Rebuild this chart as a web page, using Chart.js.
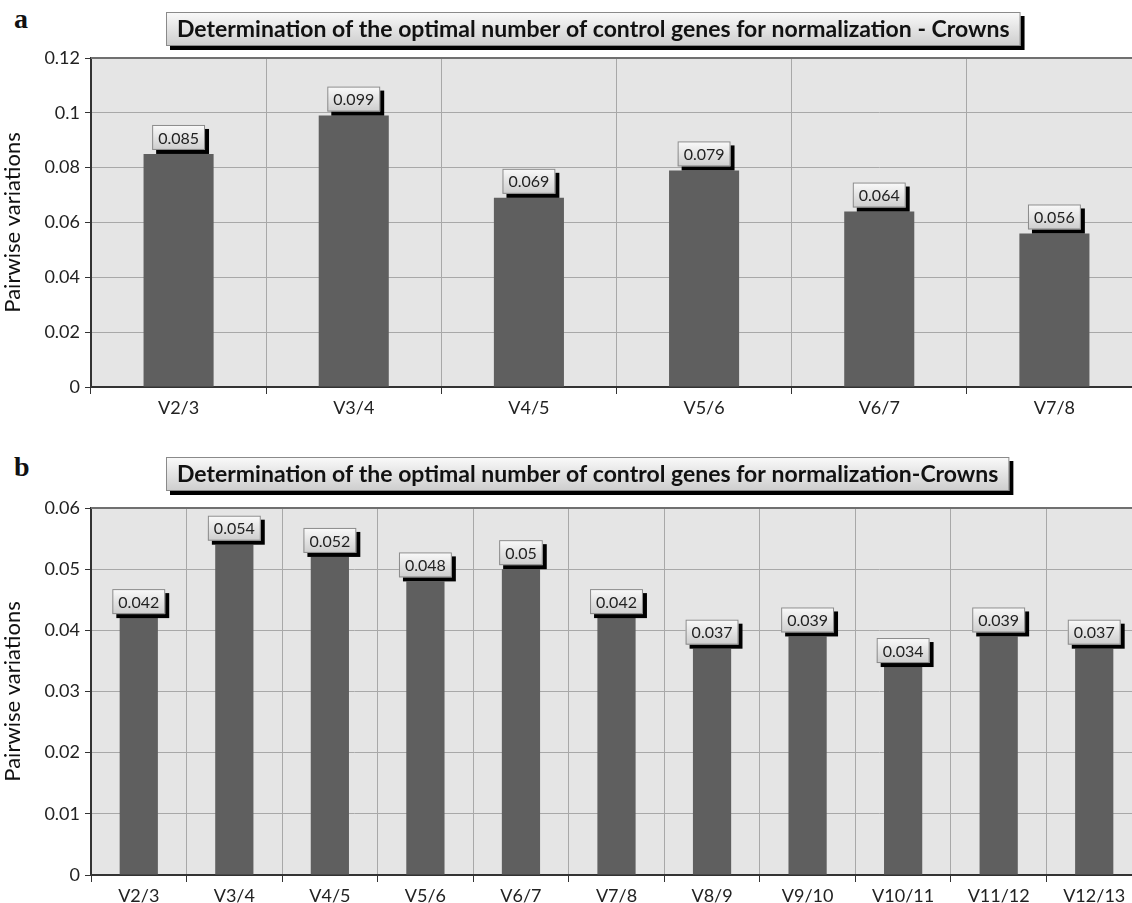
<!DOCTYPE html>
<html>
<head>
<meta charset="utf-8">
<script src="https://cdn.jsdelivr.net/npm/chart.js@4"></script>
<style>
html,body{margin:0;padding:0;background:#fff;width:1132px;height:903px;overflow:hidden;position:relative;}
.wrap{position:absolute;left:0;}
.panel{position:absolute;left:14px;font:bold 28px "Liberation Serif","DejaVu Serif",serif;color:#111;}
</style>
</head>
<body>
<div class="panel" style="top:3px;">a</div>
<div class="panel" style="top:451px;">b</div>
<div class="wrap" style="top:0;"><canvas id="ca" width="1150" height="420"></canvas></div>
<div class="wrap" style="top:440px;"><canvas id="cb" width="1150" height="463"></canvas></div>
<script>
const categoriesA = ["V2/3","V3/4","V4/5","V5/6","V6/7","V7/8"];
const valuesA = [0.085,0.099,0.069,0.079,0.064,0.056];
const titleA = "Determination of the optimal number of control genes for normalization - Crowns";
const ticksA = {max:0.12, step:0.02};

const categoriesB = ["V2/3","V3/4","V4/5","V5/6","V6/7","V7/8","V8/9","V9/10","V10/11","V11/12","V12/13"];
const valuesB = [0.042,0.054,0.052,0.048,0.05,0.042,0.037,0.039,0.034,0.039,0.037];
const titleB = "Determination of the optimal number of control genes for normalization-Crowns";
const ticksB = {max:0.06, step:0.01};

const yTitle = "Pairwise variations";
const FONT = "Lato, 'Open Sans', sans-serif";

function boxWithShadow(ctx, x, y, w, h, sh) {
  ctx.fillStyle = "#000";
  ctx.fillRect(x + sh, y + sh, w, h);
  const g = ctx.createLinearGradient(0, y, 0, y + h);
  g.addColorStop(0, "#fafafa");
  g.addColorStop(1, "#cdcdcd");
  ctx.fillStyle = g;
  ctx.fillRect(x, y, w, h);
  ctx.strokeStyle = "#8a8a8a";
  ctx.lineWidth = 1;
  ctx.strokeRect(x + 0.5, y + 0.5, w - 1, h - 1);
}

const decor = {
  id: "decor",
  beforeDraw(chart) {
    const {ctx, chartArea: a} = chart;
    ctx.save();
    ctx.fillStyle = "#e5e5e5";
    ctx.fillRect(a.left, a.top, a.right - a.left, a.bottom - a.top);
    ctx.restore();
  },
  afterDraw(chart) {
    const {ctx, chartArea: a} = chart;
    const o = chart.options.plugins.decor;
    ctx.save();
    ctx.strokeStyle = "#707070";
    ctx.lineWidth = 2;
    ctx.beginPath();
    ctx.moveTo(a.left, a.top); ctx.lineTo(a.right, a.top);
    ctx.stroke();
    const meta = chart.getDatasetMeta(0);
    ctx.font = "16px " + FONT;
    ctx.textAlign = "center";
    ctx.textBaseline = "middle";
    meta.data.forEach((bar, i) => {
      const v = chart.data.datasets[0].data[i];
      const txt = String(v);
      const w = Math.max(ctx.measureText(txt).width + 12, 32);
      const h = 25;
      const x = bar.x - w / 2;
      const y = bar.y - h - 4;
      boxWithShadow(ctx, x, y, w, h, 4);
      ctx.fillStyle = "#222";
      ctx.fillText(txt, x + w / 2, y + h / 2 + 1);
    });
    ctx.font = "bold 23px " + FONT;
    const tw = ctx.measureText(o.title).width;
    const bw = tw + 22, bh = 34;
    boxWithShadow(ctx, o.titleX, o.titleY, bw, bh, 4);
    ctx.fillStyle = "#111";
    ctx.textAlign = "left";
    ctx.fillText(o.title, o.titleX + 11, o.titleY + bh / 2 + 1);
    ctx.restore();
  }
};

function makeChart(id, cats, vals, tk, title, padTop, xH, titleY) {
  return new Chart(document.getElementById(id), {
    type: "bar",
    data: {
      labels: cats,
      datasets: [{
        data: vals,
        backgroundColor: "#5f5f5f",
        borderWidth: 0,
        categoryPercentage: 1,
        barPercentage: 0.4
      }]
    },
    options: {
      responsive: false,
      animation: false,
      layout: {padding: {top: padTop, right: 8, left: 0, bottom: 0}},
      plugins: {
        legend: {display: false},
        tooltip: {enabled: false},
        decor: {title: title, titleX: 166, titleY: titleY}
      },
      scales: {
        x: {
          offset: true,
          grid: {offset: true, color: "#a8a8a8", lineWidth: 1, tickLength: 7, tickColor: "#333", drawOnChartArea: true},
          border: {color: "#333", width: 2},
          ticks: {color: "#222", font: {family: FONT, size: 18}, padding: 3, maxRotation: 0},
          afterFit(s) { s.height = xH; }
        },
        y: {
          min: 0, max: tk.max,
          grid: {color: "#a8a8a8", lineWidth: 1, tickLength: 6, tickColor: "#333"},
          border: {color: "#333", width: 2},
          ticks: {stepSize: tk.step, color: "#222", font: {family: FONT, size: 18}, padding: 5,
                  callback: v => String(parseFloat(v.toFixed(4)))},
          title: {display: true, text: yTitle, color: "#111", font: {family: FONT, size: 22}, padding: 0},
          afterFit(s) { s.width = 91; }
        }
      }
    },
    plugins: [decor]
  });
}

makeChart("ca", categoriesA, valuesA, ticksA, titleA, 58, 33, 12);
makeChart("cb", categoriesB, valuesB, ticksB, titleB, 68, 28, 17);
</script>
</body>
</html>
